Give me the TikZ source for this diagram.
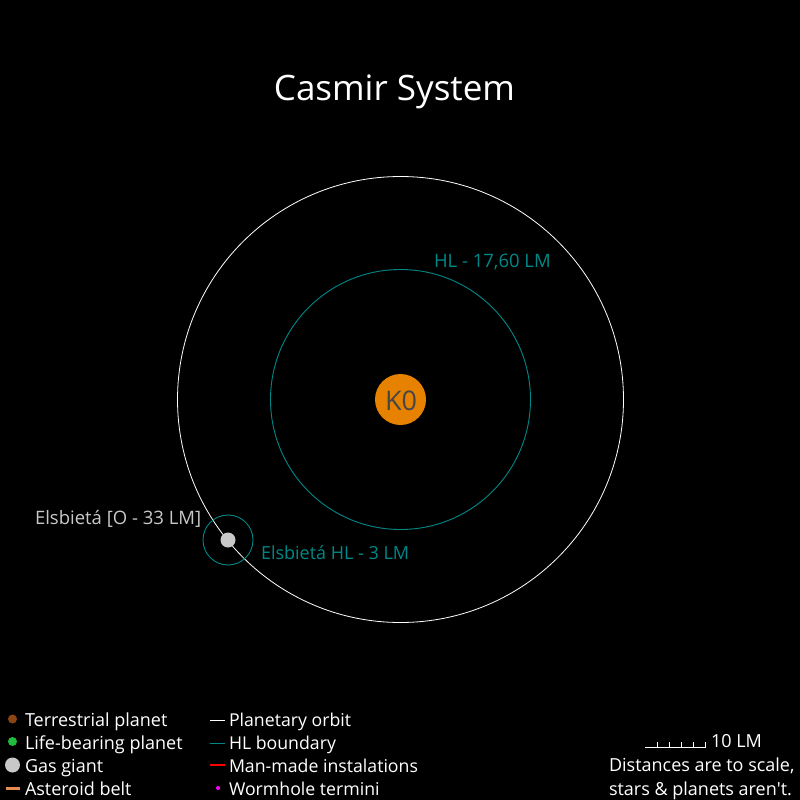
\documentclass[tikz,border=0pt]{standalone}
\usepackage{fontspec}
\setmainfont{Open Sans}
\newfontfamily\plainfont{Open Sans}
\definecolor{hlteal}{RGB}{0,136,136}
\definecolor{starorange}{RGB}{230,130,0}
\definecolor{giantgrey}{RGB}{200,200,200}
\definecolor{starlabel}{RGB}{70,70,70}
\definecolor{rockbrown}{RGB}{139,69,19}
\definecolor{lifegreen}{RGB}{30,190,60}
\definecolor{beltorange}{RGB}{230,140,80}
\definecolor{wormpink}{RGB}{255,0,255}
\definecolor{manred}{RGB}{255,0,0}
\begin{document}
\begin{tikzpicture}[x=1pt,y=-1pt,line join=round,line cap=butt]
	\tikzset{every node/.style={inner sep=0pt,outer sep=0pt,font=\fontsize{18}{18}\selectfont,white},
		lbl/.style={anchor=base west},
		big/.style={font=\fontsize{18.5}{18}\selectfont},
		tight/.style={font=\fontsize{17.7}{18}\selectfont},
		dot/.style={circle,minimum size=#1,draw=none}}
	\useasboundingbox[fill=black] (0,0) rectangle (800,800);
	\node[font=\fontsize{35}{35}\selectfont,anchor=base] (title) at (394.5,100) {Casmir System};
	% orbits
	\draw[white,line width=0.8pt] (400.5,399.5) circle (223);
	\draw[hlteal,line width=0.9pt] (400.5,399.5) circle (130);
	\draw[hlteal,line width=0.9pt] (228,540) circle (25);
	% bodies
	\node[dot=51pt,fill=starorange] (star) at (400.5,399.5) {};
	\node[font=\fontsize{27}{27}\selectfont,starlabel] (starname) at (401,400.5) {K0};
	\node[dot=15pt,fill=giantgrey] (giant) at (228,540) {};
	\node[lbl,big,hlteal] (hl) at (434,267) {HL - 17,60 LM};
	\node[lbl,big,giantgrey] (giantname) at (35,524) {Elsbietá [O - 33 LM]};
	\node[lbl,hlteal] (gianthl) at (261,559) {Elsbietá HL - 3 LM};
	% legend
	\node[dot=9pt,fill=rockbrown] (k1) at (12.5,719) {};
	\node[dot=9pt,fill=lifegreen] (k2) at (12.5,741.5) {};
	\node[dot=15pt,fill=giantgrey] (k3) at (12.5,765) {};
	\coordinate (k4a) at (6,788);
	\coordinate (k4b) at (20,788);
	\draw[beltorange,line width=3pt] (k4a)--(k4b);
	\node[lbl] (t1) at (25,726) {Terrestrial planet};
	\node[lbl] (t2) at (25,749) {Life-bearing planet};
	\node[lbl] (t3) at (25,772) {Gas giant};
	\node[lbl] (t4) at (25,795) {Asteroid belt};
	\coordinate (k5a) at (210,720);
	\coordinate (k5b) at (225,720);
	\coordinate (k6a) at (210,743);
	\coordinate (k6b) at (225,743);
	\coordinate (k7a) at (210,765);
	\coordinate (k7b) at (225,765);
	\draw[white,line width=1pt] (k5a)--(k5b);
	\draw[hlteal,line width=1pt] (k6a)--(k6b);
	\draw[manred,line width=2pt] (k7a)--(k7b);
	\node[dot=4pt,fill=wormpink] (k8) at (218,788) {};
	\node[lbl,tight] (t5) at (229,726) {Planetary orbit};
	\node[lbl,tight] (t6) at (229,749) {HL boundary};
	\node[lbl,tight] (t7) at (229,772) {Man-made instalations};
	\node[lbl,tight] (t8) at (229,795) {Wormhole termini};
	% scale
	\draw[white,line width=1pt] (645,747.5)--(705,747.5);
	\foreach \tickx in {657,669,681,693,705}
		\draw[white,line width=1pt] (\tickx,747.5)--(\tickx,741.5);
	\node[lbl] (s1) at (711,747) {10 LM};
	\node[lbl] (s2) at (609,771) {Distances are to scale,};
	\node[lbl] (s3) at (609,795) {stars \& planets aren{\plainfont '}t.};
\end{tikzpicture}
\end{document}
